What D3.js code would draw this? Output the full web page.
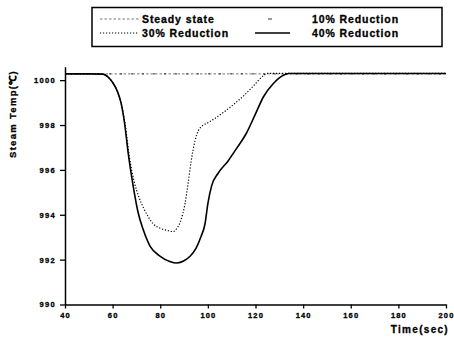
<!DOCTYPE html>
<html>
<head>
<meta charset="utf-8">
<script src="https://cdn.jsdelivr.net/npm/d3@7"></script>
<style>
  html, body { margin: 0; padding: 0; background: #fff; }
  svg { display: block; }
  text { font-family: "Liberation Sans", Arial, sans-serif; font-weight: bold; fill: #000; stroke: #000; stroke-width: 0.3px; }
</style>
</head>
<body>
<svg id="chart" width="454" height="341"></svg>
<script>
// Steam temperature response to load reduction
const seriesNames = ["Steady state", "10% Reduction", "30% Reduction", "40% Reduction"];

const timeSteady = [40, 200];
const tempSteady = [1000.28, 1000.28];

const time10 = [40, 200];
const temp10 = [1000.28, 1000.28];

const time30 = [40, 56, 58, 60, 62, 63.5, 65.3, 67, 69, 71, 73, 75, 77, 80, 83, 85.4, 87, 88.5, 90.4, 91.7, 93, 94.6, 96, 97.5, 100, 103.7, 107, 110, 115, 119, 123.3, 125, 140, 200];
const temp30 = [1000.28, 1000.27, 1000.15, 999.9, 999.5, 999.0, 998.0, 996.6, 995.5, 994.8, 994.3, 993.9, 993.6, 993.4, 993.3, 993.25, 993.4, 993.7, 994.5, 995.4, 996.4, 997.3, 997.75, 997.95, 998.1, 998.35, 998.6, 998.85, 999.3, 999.73, 1000.2, 1000.3, 1000.3, 1000.3];

const time40 = [40, 50, 56, 58, 60, 62, 63.5, 65, 66.6, 68.6, 70.7, 72.8, 75.7, 80, 84, 87, 90, 92.5, 95, 97, 98.8, 100, 101.6, 104.3, 108.5, 112, 116, 120, 123.3, 127.5, 131.7, 134, 140, 160, 180, 200];
const temp40 = [1000.28, 1000.28, 1000.27, 1000.15, 999.9, 999.5, 999.0, 998.1, 996.7, 995.3, 994.1, 993.35, 992.6, 992.15, 991.92, 991.85, 991.95, 992.15, 992.5, 993.0, 993.6, 994.5, 995.3, 995.85, 996.4, 996.95, 997.6, 998.5, 999.25, 999.85, 1000.22, 1000.3, 1000.3, 1000.3, 1000.3, 1000.3];

const xMajorTicks = [40, 60, 80, 100, 120, 140, 160, 180, 200];
const xMinorTicks = [50, 70, 90, 110, 130, 150, 170, 190];
const yMajorTicks = [990, 992, 994, 996, 998, 1000];
const yMinorTicks = [991, 993, 995, 997, 999];

const svg = d3.select("#chart");

const x = d3.scaleLinear().domain([40, 200]).range([65, 446]);
const y = d3.scaleLinear().domain([990, 1000.6]).range([304.5, 66.7]);

// axes
const xAxis = svg.append("g").attr("transform", `translate(0,${y(990)})`);
xAxis.call(d3.axisBottom(x).tickValues(xMinorTicks).tickSize(2.5).tickSizeOuter(0).tickFormat(""));
xAxis.call(d3.axisBottom(x).tickValues(xMajorTicks).tickSize(4).tickSizeOuter(0).tickFormat(d3.format("d")));
xAxis.selectAll("path.domain").attr("stroke", "#000").attr("stroke-width", 1.5);
xAxis.selectAll("line").attr("stroke", "#000").attr("stroke-width", 1.3);
xAxis.selectAll("text")
  .attr("y", 8)
  .style("font-size", "7.5px")
  .style("letter-spacing", "1.1px");

const yAxis = svg.append("g").attr("transform", `translate(${x(40)},0)`);
yAxis.call(d3.axisLeft(y).tickValues(yMinorTicks).tickSize(2.5).tickSizeOuter(0).tickFormat(""));
yAxis.call(d3.axisLeft(y).tickValues(yMajorTicks).tickSize(5).tickSizeOuter(0).tickFormat(d3.format("d")));
yAxis.selectAll("path.domain").attr("stroke", "#000").attr("stroke-width", 1.5);
yAxis.selectAll("line").attr("stroke", "#000").attr("stroke-width", 1.3);
yAxis.selectAll("text")
  .attr("x", -9)
  .style("font-size", "7.5px")
  .style("letter-spacing", "1.3px");

// axis titles
svg.append("text")
  .attr("x", 449).attr("y", 333)
  .attr("text-anchor", "end")
  .style("font-size", "10px")
  .style("letter-spacing", "1.3px")
  .text("Time(sec)");

svg.append("text")
  .attr("transform", "translate(16,114) rotate(-90)")
  .attr("text-anchor", "middle")
  .style("font-size", "9.5px")
  .style("letter-spacing", "1.3px")
  .text("Steam Temp(℃)");

// series
const styles = [
  { stroke: "#666", width: 0.9, dash: "2.5,2" },
  { stroke: "#333", width: 1, dash: "2,9" },
  { stroke: "#000", width: 1.2, dash: "1.2,1.8" },
  { stroke: "#000", width: 1.6, dash: null }
];
const seriesData = [
  d3.zip(timeSteady, tempSteady),
  d3.zip(time10, temp10),
  d3.zip(time30, temp30),
  d3.zip(time40, temp40)
];

const line = d3.line()
  .x(d => x(d[0]))
  .y(d => y(d[1]))
  .curve(d3.curveMonotoneX);

seriesData.forEach((pts, i) => {
  svg.append("path")
    .datum(pts)
    .attr("fill", "none")
    .attr("stroke", styles[i].stroke)
    .attr("stroke-width", styles[i].width)
    .attr("stroke-dasharray", styles[i].dash)
    .attr("d", line);
});

// legend
const legend = svg.append("g");
legend.append("rect")
  .attr("x", 92).attr("y", 7.5)
  .attr("width", 350).attr("height", 39)
  .attr("fill", "#fff")
  .attr("stroke", "#000")
  .attr("stroke-width", 1.5);

const legendItems = [
  { x1: 100, x2: 139, y: 19, tx: 142, ty: 22.5 },
  { x1: 268, x2: 272, y: 19, tx: 312, ty: 22.5 },
  { x1: 100, x2: 139, y: 33, tx: 142, ty: 36.5 },
  { x1: 255, x2: 290, y: 33, tx: 312, ty: 36.5 }
];
legendItems.forEach((it, i) => {
  legend.append("line")
    .attr("x1", it.x1).attr("x2", it.x2)
    .attr("y1", it.y).attr("y2", it.y)
    .attr("stroke", styles[i].stroke)
    .attr("stroke-width", styles[i].width)
    .attr("stroke-dasharray", i === 1 ? null : styles[i].dash);
  legend.append("text")
    .attr("x", it.tx).attr("y", it.ty)
    .style("font-size", "10.5px")
    .style("letter-spacing", "0.9px")
    .text(seriesNames[i]);
});
</script>
</body>
</html>
